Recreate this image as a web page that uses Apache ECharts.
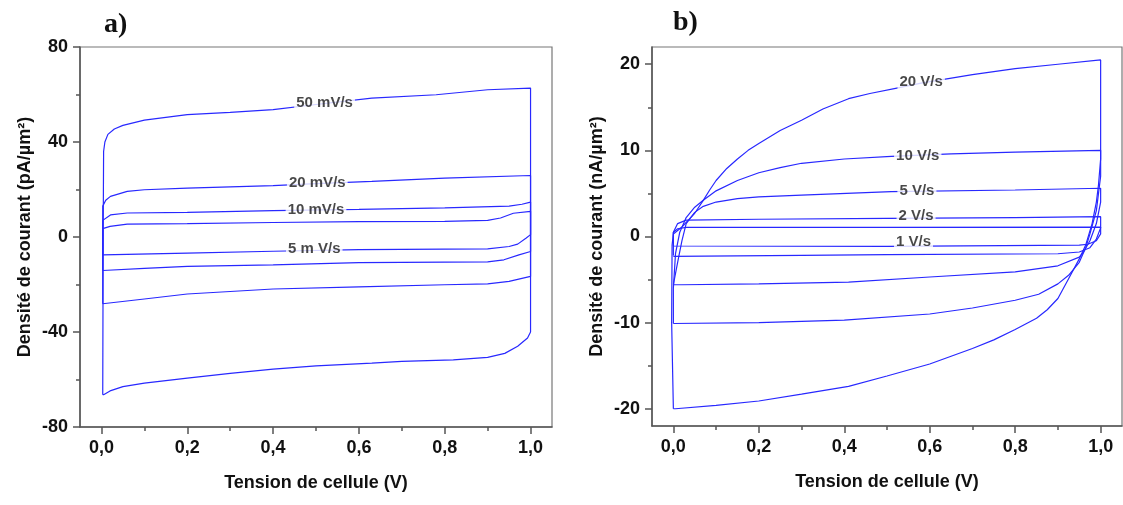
<!DOCTYPE html>
<html>
<head>
<meta charset="utf-8">
<script src="https://cdn.jsdelivr.net/npm/echarts@6/dist/echarts.min.js"></script>
<style>
html,body{margin:0;padding:0;background:#fff;}
#c{width:1123px;height:505px;}
</style>
</head>
<body>
<div id="c"></div>
<script>
// ---------- Data (panel a: pA/µm², panel b: nA/µm²) ----------
const xTicks = [0, 0.2, 0.4, 0.6, 0.8, 1.0];
const xMinor = [0.1, 0.3, 0.5, 0.7, 0.9];
const yTicksA = [-80, -40, 0, 40, 80];
const yMinorA = [-60, -20, 20, 60];
const yTicksB = [-20, -10, 0, 10, 20];
const yMinorB = [-15, -5, 5, 15];

const a50 = [[0.003,-66.4],[0.004,0],[0.005,36],[0.008,40],[0.015,43.2],[0.03,45.5],[0.05,47],[0.1,49.2],[0.2,51.5],[0.3,52.5],[0.4,53.6],[0.5,55.8],[0.63,58.5],[0.78,59.9],[0.9,62],[1.0,62.7],
  [1.0,-40],[0.993,-42.5],[0.97,-46],[0.94,-49],[0.9,-50.7],[0.82,-51.7],[0.7,-52.4],[0.63,-53.1],[0.5,-54.3],[0.4,-55.6],[0.3,-57.4],[0.2,-59.4],[0.1,-61.5],[0.05,-63],[0.02,-64.8],[0.005,-66.4],[0.003,-66.4]];
const a20 = [[0.003,-28.1],[0.003,13],[0.01,15.5],[0.021,17.1],[0.06,19.2],[0.1,19.9],[0.2,20.6],[0.4,21.6],[0.5,22.5],[0.63,23.4],[0.8,24.8],[1.0,25.9],
  [1.0,-16.6],[0.95,-18.7],[0.9,-19.7],[0.8,-20.1],[0.6,-21],[0.4,-21.9],[0.2,-24],[0.1,-26.1],[0.003,-28.1]];
const a10 = [[0.003,-14.1],[0.003,7],[0.021,9.3],[0.06,10.1],[0.2,10.4],[0.4,11.1],[0.6,11.6],[0.8,12.3],[0.95,13],[0.98,13.8],[1.0,14.7],
  [1.0,-6.1],[0.973,-7.5],[0.938,-9.6],[0.9,-10.5],[0.6,-10.8],[0.4,-11.7],[0.2,-12.4],[0.1,-13.2],[0.003,-14.1]];
const a5 = [[0.003,-7.5],[0.003,3.5],[0.02,4.5],[0.06,5.4],[0.2,5.6],[0.4,6.1],[0.6,6.5],[0.8,6.6],[0.9,7],[0.93,8],[0.96,10],[1.0,10.8],
  [1.0,1],[0.99,-0.4],[0.97,-3],[0.95,-4],[0.9,-5],[0.6,-5.3],[0.4,-6],[0.2,-6.8],[0.003,-7.5]];

const b20 = [[0.0,-20],[-0.004,-10],[-0.003,-1],[0.0,0.3],[0.02,1.1],[0.035,1.9],[0.05,2.7],[0.07,4.2],[0.085,5.4],[0.1,6.5],[0.125,7.9],[0.15,9],[0.175,10],[0.2,10.8],[0.25,12.3],[0.3,13.5],[0.35,14.8],[0.41,16],[0.46,16.6],[0.52,17.2],[0.58,17.8],[0.64,18.3],[0.7,18.8],[0.8,19.5],[0.9,20.0],[1.0,20.5],
  [1.0,9],[0.995,6],[0.99,4],[0.98,1.5],[0.965,-1],[0.95,-2.6],[0.925,-4.9],[0.9,-7.2],[0.875,-8.5],[0.85,-9.5],[0.8,-10.8],[0.75,-12],[0.7,-13],[0.65,-13.9],[0.6,-14.8],[0.5,-16.2],[0.41,-17.4],[0.3,-18.3],[0.2,-19.1],[0.1,-19.6],[0.005,-20],[0.0,-20]];
const b10 = [[0.0,-10.1],[0.0,-6],[0.005,-2],[0.015,0.5],[0.03,2.2],[0.05,3.4],[0.07,4.2],[0.1,5.3],[0.15,6.5],[0.2,7.4],[0.25,8.0],[0.3,8.5],[0.4,9.0],[0.51,9.3],[0.65,9.6],[0.8,9.8],[1.0,10.0],
  [1.0,7],[0.99,3],[0.975,0.3],[0.965,-1.3],[0.95,-3],[0.925,-4.5],[0.9,-5.5],[0.855,-6.7],[0.8,-7.4],[0.7,-8.3],[0.6,-9],[0.4,-9.7],[0.2,-10],[0.0,-10.1]];
const b5 = [[0.0,-5.6],[0.01,-3],[0.02,-0.5],[0.03,1.5],[0.05,2.8],[0.07,3.5],[0.1,4.0],[0.15,4.4],[0.2,4.6],[0.3,4.8],[0.51,5.2],[0.8,5.4],[1.0,5.6],
  [1.0,4],[0.99,1.5],[0.975,-0.5],[0.96,-1.8],[0.95,-2.4],[0.9,-3.4],[0.8,-4.1],[0.6,-4.7],[0.41,-5.3],[0.2,-5.5],[0.02,-5.6],[0.0,-5.6]];
const b2 = [[0.0,-2.2],[0.0,0.5],[0.01,1.5],[0.03,1.9],[0.2,2.0],[0.5,2.1],[0.8,2.2],[1.0,2.3],
  [1.0,1],[0.99,-0.3],[0.975,-1.3],[0.95,-1.8],[0.9,-2.0],[0.5,-2.1],[0.3,-2.2],[0.0,-2.3]];
const b1 = [[0.0,-1.1],[0.0,0.5],[0.01,0.9],[0.03,1.05],[0.5,1.05],[1.0,1.1],
  [1.0,0.3],[0.99,-0.5],[0.97,-0.9],[0.95,-1.0],[0.5,-1.15],[0.0,-1.1]];

const labelsA = [{name:'50 mV/s', value:[0.52,56.5]},{name:'20 mV/s', value:[0.503,22.8]},{name:'10 mV/s', value:[0.5,11.5]},{name:'5 m V/s', value:[0.496,-4.9]}];
const labelsB = [{name:'20 V/s', value:[0.58,17.9]},{name:'10 V/s', value:[0.572,9.4]},{name:'5 V/s', value:[0.57,5.3]},{name:'2 V/s', value:[0.568,2.4]},{name:'1 V/s', value:[0.562,-0.6]}];

// ---------- Chart ----------
const FONT = '"Liberation Sans", Arial, sans-serif';
const AX = '#555';
const LINE = '#2828ff';
const fmtX = v => v.toFixed(1).replace('.', ',');

function xMain(g){
  return {gridIndex:g, type:'value', min:-0.05, max:1.05, position:'bottom',
    axisLine:{show:true, onZero:false, lineStyle:{color:AX, width:1.5}},
    axisTick:{show:true, customValues:xTicks, length:7, lineStyle:{color:AX, width:1.5}},
    axisLabel:{show:true, customValues:xTicks, formatter:fmtX, fontFamily:FONT, fontSize:18, fontWeight:'bold', color:'#111', margin:12},
    splitLine:{show:false},
    name:'Tension de cellule (V)', nameLocation:'middle', nameGap:47,
    nameTextStyle:{fontFamily:FONT, fontSize:18, fontWeight:'bold', color:'#111'}};
}
function xMin(g){
  return {gridIndex:g, type:'value', min:-0.05, max:1.05, position:'bottom',
    axisLine:{show:false, onZero:false}, axisLabel:{show:false}, splitLine:{show:false},
    axisTick:{show:true, customValues:xMinor, length:4, lineStyle:{color:AX, width:1.5}}};
}
function yMain(g, min, max, ticks, name){
  return {gridIndex:g, type:'value', min:min, max:max, position:'left',
    axisLine:{show:true, onZero:false, lineStyle:{color:AX, width:1.5}},
    axisTick:{show:true, customValues:ticks, length:7, lineStyle:{color:AX, width:1.5}},
    axisLabel:{show:true, customValues:ticks, fontFamily:FONT, fontSize:18, fontWeight:'bold', color:'#111', margin:12},
    splitLine:{show:false},
    name:name, nameLocation:'middle', nameGap:46,
    nameTextStyle:{fontFamily:FONT, fontSize:18, fontWeight:'bold', color:'#111'}};
}
function yMin(g, min, max, ticks){
  return {gridIndex:g, type:'value', min:min, max:max, position:'left',
    axisLine:{show:false, onZero:false}, axisLabel:{show:false}, splitLine:{show:false},
    axisTick:{show:true, customValues:ticks, length:4, lineStyle:{color:AX, width:1.5}}};
}
function loop(data, xi, yi){
  return {type:'line', xAxisIndex:xi, yAxisIndex:yi, data:data, showSymbol:false, symbol:'none',
    lineStyle:{color:LINE, width:1.2}, silent:true, animation:false, z:2};
}
function lbls(data, xi, yi){
  return {type:'scatter', xAxisIndex:xi, yAxisIndex:yi, data:data, symbolSize:1,
    itemStyle:{color:'rgba(0,0,0,0)'}, silent:true, animation:false, z:5,
    label:{show:true, position:'inside', formatter:p => p.name, fontFamily:FONT, fontSize:15, fontWeight:'bold', color:'#1a1a1a',
      backgroundColor:'#fff', padding:[0,2]}};
}

const chart = echarts.init(document.getElementById('c'), null, {renderer:'canvas'});
chart.setOption({
  animation:false,
  backgroundColor:'#fff',
  title:[
    {text:'a)', left:99, top:6, textStyle:{fontFamily:'"Liberation Serif", "Times New Roman", serif', fontSize:28, fontWeight:'bold', color:'#111'}},
    {text:'b)', left:668, top:4, textStyle:{fontFamily:'"Liberation Serif", "Times New Roman", serif', fontSize:28, fontWeight:'bold', color:'#111'}}
  ],
  grid:[
    {left:80, top:47, right:571, bottom:78, show:true, borderColor:'#777', borderWidth:1.2, backgroundColor:'transparent'},
    {left:652, top:47, right:1, bottom:79, show:true, borderColor:'#777', borderWidth:1.2, backgroundColor:'transparent'}
  ],
  xAxis:[xMain(0), xMin(0), xMain(1), xMin(1)],
  yAxis:[
    yMain(0, -80, 80, yTicksA, 'Densité de courant (pA/µm²)'), yMin(0, -80, 80, yMinorA),
    yMain(1, -22, 22, yTicksB, 'Densité de courant (nA/µm²)'), yMin(1, -22, 22, yMinorB)
  ],
  series:[
    loop(a50,0,0), loop(a20,0,0), loop(a10,0,0), loop(a5,0,0), lbls(labelsA,0,0),
    loop(b20,2,2), loop(b10,2,2), loop(b5,2,2), loop(b2,2,2), loop(b1,2,2), lbls(labelsB,2,2)
  ]
});
</script>
</body>
</html>
